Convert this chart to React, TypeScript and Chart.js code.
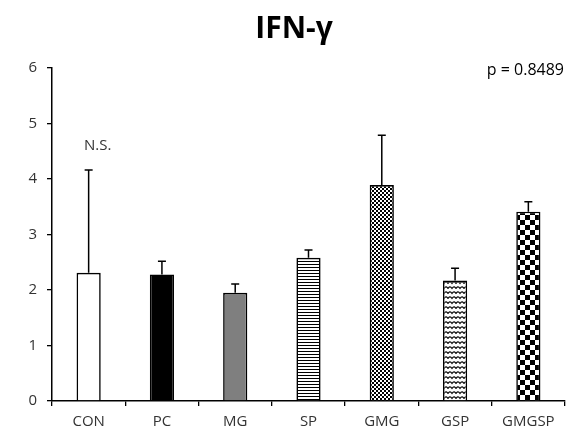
import React, { useEffect, useRef } from 'react';
import { Chart, registerables } from 'chart.js';

Chart.register(...registerables);

// ---- data ----
const categories = ['CON', 'PC', 'MG', 'SP', 'GMG', 'GSP', 'GMGSP'];
const means = [2.31, 2.28, 1.95, 2.58, 3.89, 2.17, 3.41];
const errors = [1.85, 0.24, 0.16, 0.14, 0.9, 0.22, 0.18];
const fillKinds = ['white', 'black', 'gray', 'hlines', 'smallcheck', 'zigzag', 'bigcheck'];
const yMin = 0;
const yMax = 6;
const yStep = 1;
const titleText = 'IFN-γ';
const pValueText = 'p = 0.8489';
const nsText = 'N.S.';
const nsIndex = 0;

const FONT = "'Open Sans', 'DejaVu Sans', sans-serif";
const TEXT_COLOR = '#333333';

function makeFill(kind: string): string | CanvasPattern {
  if (kind === 'white') return '#ffffff';
  if (kind === 'black') return '#000000';
  if (kind === 'gray') return '#7f7f7f';
  const c = document.createElement('canvas');
  const ctx = c.getContext('2d')!;
  if (kind === 'hlines') {
    c.width = 4; c.height = 3;
    ctx.fillStyle = '#fff'; ctx.fillRect(0, 0, 4, 3);
    ctx.fillStyle = '#000'; ctx.fillRect(0, 0, 4, 1);
  } else if (kind === 'smallcheck') {
    c.width = 4; c.height = 4;
    ctx.fillStyle = '#000'; ctx.fillRect(0, 0, 4, 4);
    ctx.fillStyle = '#fff'; ctx.fillRect(0, 0, 2, 2); ctx.fillRect(2, 2, 2, 2);
  } else if (kind === 'bigcheck') {
    c.width = 10; c.height = 10;
    ctx.fillStyle = '#fff'; ctx.fillRect(0, 0, 10, 10);
    ctx.fillStyle = '#000'; ctx.fillRect(0, 0, 5, 5); ctx.fillRect(5, 5, 5, 5);
  } else if (kind === 'zigzag') {
    c.width = 8; c.height = 5;
    ctx.fillStyle = '#fff'; ctx.fillRect(0, 0, 8, 5);
    ctx.strokeStyle = '#000'; ctx.lineWidth = 1.1;
    ctx.beginPath();
    ctx.moveTo(-1, 3.5);
    ctx.lineTo(0, 3.5);
    ctx.quadraticCurveTo(2, 0.2, 4, 3.5);
    ctx.quadraticCurveTo(6, 0.2, 8, 3.5);
    ctx.lineTo(9, 3.5);
    ctx.stroke();
  }
  const p = ctx.createPattern(c, 'repeat');
  return p || '#fff';
}

const decorPlugin = {
  id: 'decor',
  afterDatasetsDraw(chart: any) {
    const ctx = chart.ctx as CanvasRenderingContext2D;
    const meta = chart.getDatasetMeta(0);
    const y = chart.scales.y;
    ctx.save();
    ctx.strokeStyle = '#000';
    ctx.lineWidth = 1.5;
    meta.data.forEach((bar: any, i: number) => {
      const top = y.getPixelForValue(means[i]);
      const errTop = y.getPixelForValue(means[i] + errors[i]);
      ctx.beginPath();
      ctx.moveTo(bar.x, top);
      ctx.lineTo(bar.x, errTop);
      ctx.moveTo(bar.x - 4, errTop);
      ctx.lineTo(bar.x + 4, errTop);
      ctx.stroke();
    });
    ctx.restore();
  },
  afterDraw(chart: any) {
    const ctx = chart.ctx as CanvasRenderingContext2D;
    const meta = chart.getDatasetMeta(0);
    const y = chart.scales.y;
    ctx.save();
    ctx.fillStyle = '#000';
    ctx.font = `bold 30px ${FONT}`;
    ctx.textAlign = 'center';
    ctx.textBaseline = 'alphabetic';
    ctx.fillText(titleText, 294, 38);

    ctx.fillStyle = '#000';
    ctx.font = `16px ${FONT}`;
    ctx.textAlign = 'right';
    ctx.fillText(pValueText, 564, 75);

    const bar = meta.data[nsIndex];
    const errTop = y.getPixelForValue(means[nsIndex] + errors[nsIndex]);
    ctx.fillStyle = TEXT_COLOR;
    ctx.font = `15px ${FONT}`;
    ctx.textAlign = 'center';
    ctx.fillText(nsText, bar.x + 9, errTop - 20);
    ctx.restore();
  },
};

export default function App() {
  const ref = useRef<HTMLCanvasElement | null>(null);
  useEffect(() => {
    document.body.style.margin = '0';
    const canvas = ref.current!;
    const chart = new Chart(canvas, {
      type: 'bar',
      data: {
        labels: categories,
        datasets: [
          {
            data: means,
            backgroundColor: fillKinds.map(makeFill) as any,
            borderColor: '#000',
            borderWidth: 1.6,
            barPercentage: 0.33,
            categoryPercentage: 1,
          },
        ],
      },
      options: {
        responsive: false,
        animation: false,
        layout: { padding: { top: 68, right: 5, left: 0, bottom: 0 } },
        plugins: {
          legend: { display: false },
          title: { display: false },
          tooltip: { enabled: false },
        },
        scales: {
          x: {
            grid: { offset: true, drawOnChartArea: false, drawTicks: true, tickLength: 5, color: '#000', lineWidth: 1.3 },
            border: { color: '#000', width: 1.5 },
            ticks: { color: TEXT_COLOR, font: { family: FONT, size: 15 }, padding: 7 },
            afterFit: (s: any) => { s.height = 36; },
          },
          y: {
            min: yMin,
            max: yMax,
            ticks: { stepSize: yStep, color: TEXT_COLOR, font: { family: FONT, size: 15 }, padding: 10 },
            grid: { drawOnChartArea: false, drawTicks: true, tickLength: 5, color: '#000', lineWidth: 1.3 },
            border: { color: '#000', width: 1.5 },
            afterFit: (s: any) => { s.width = 52; },
          },
        },
      },
      plugins: [decorPlugin],
    });
    return () => chart.destroy();
  }, []);
  return (
    <div style={{ position: 'absolute', left: 0, top: 0, width: 570, height: 437, background: '#fff' }}>
      <canvas ref={ref} width={570} height={437} style={{ display: 'block' }} />
    </div>
  );
}
